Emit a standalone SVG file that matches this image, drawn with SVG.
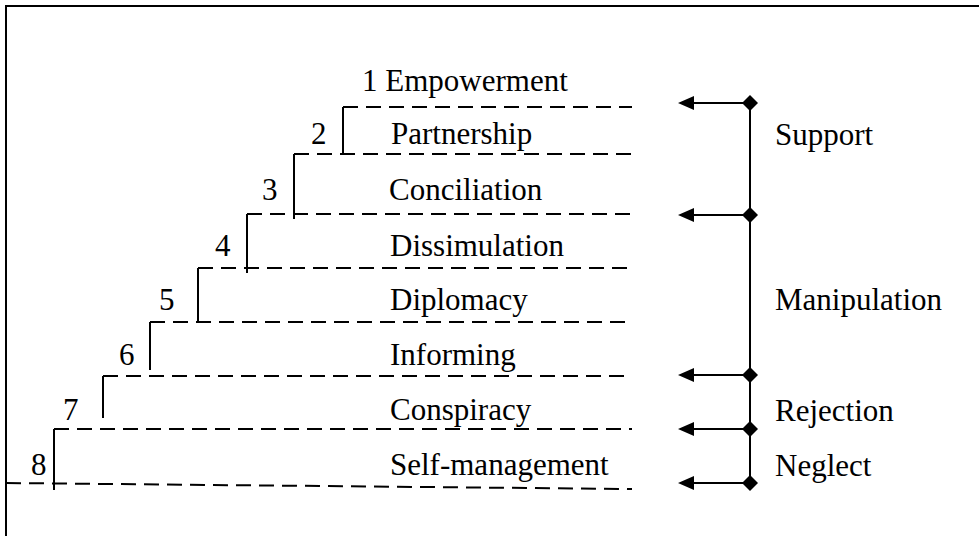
<svg xmlns="http://www.w3.org/2000/svg" width="979" height="536" viewBox="0 0 979 536">
<style>
text{font-family:'Liberation Serif','DejaVu Serif',serif;font-size:31px;fill:#000}
.d{stroke:#000;stroke-width:2;stroke-dasharray:15 8;fill:none}
.s{stroke:#000;stroke-width:2;fill:none}
</style>
<defs>
<marker id="dm" viewBox="0 0 16 16" refX="8" refY="8" markerWidth="16" markerHeight="16" markerUnits="userSpaceOnUse">
<path d="M8,0 L16,8 L8,16 L0,8 z" fill="#000"/>
</marker>
</defs>
<rect width="979" height="536" fill="#fff"/>
<path class="s" d="M6,536 V6 H979"/>
<g id="connectors">
<g id="steps">
<path class="d" d="M343,107 H632"/>
<path class="d" d="M294,154 H632"/>
<path class="d" d="M247,214 H632"/>
<path class="d" d="M198,268 H632"/>
<path class="d" d="M150,322 H632"/>
<path class="d" d="M103,376 H632"/>
<path class="d" d="M54,429 H632"/>
<path class="d" d="M6,483 L632,489"/>
<path class="s" d="M343,107 V154"/>
<path class="s" d="M294,154 V219"/>
<path class="s" d="M247,214 V273"/>
<path class="s" d="M198,268 V322"/>
<path class="s" d="M150,322 V370"/>
<path class="s" d="M103,376 V418"/>
<path class="s" d="M54,429 V490"/>
</g>
<g id="brackets">
<path class="s" d="M750,103 V483"/>
<path class="s" d="M750,103 H694" marker-start="url(#dm)"/>
<path class="s" d="M750,215 H694" marker-start="url(#dm)"/>
<path class="s" d="M750,375 H694" marker-start="url(#dm)"/>
<path class="s" d="M750,429 H694" marker-start="url(#dm)"/>
<path class="s" d="M750,483 H694" marker-start="url(#dm)"/>
<path d="M678,103 L694,96 L694,110 z M678,215 L694,208 L694,222 z M678,375 L694,368 L694,382 z M678,429 L694,422 L694,436 z M678,483 L694,476 L694,490 z" fill="#000"/>
</g>
</g>
<g font-family="Liberation Serif, serif">
<g id="level1"><text x="362" y="91">1 Empowerment</text></g>
<g id="level2"><text x="311" y="144">2</text><text x="391" y="144">Partnership</text></g>
<g id="level3"><text x="262" y="200">3</text><text x="389" y="200">Conciliation</text></g>
<g id="level4"><text x="215" y="256">4</text><text x="390" y="256">Dissimulation</text></g>
<g id="level5"><text x="159" y="310">5</text><text x="390" y="310">Diplomacy</text></g>
<g id="level6"><text x="119" y="365">6</text><text x="390" y="365">Informing</text></g>
<g id="level7"><text x="63" y="420">7</text><text x="390" y="420">Conspiracy</text></g>
<g id="level8"><text x="31" y="475">8</text><text x="390" y="475">Self-management</text></g>
<g id="support"><text x="775" y="145">Support</text></g>
<g id="manipulation"><text x="775" y="310">Manipulation</text></g>
<g id="rejection"><text x="775" y="421">Rejection</text></g>
<g id="neglect"><text x="775" y="476">Neglect</text></g>
</g>
</svg>
